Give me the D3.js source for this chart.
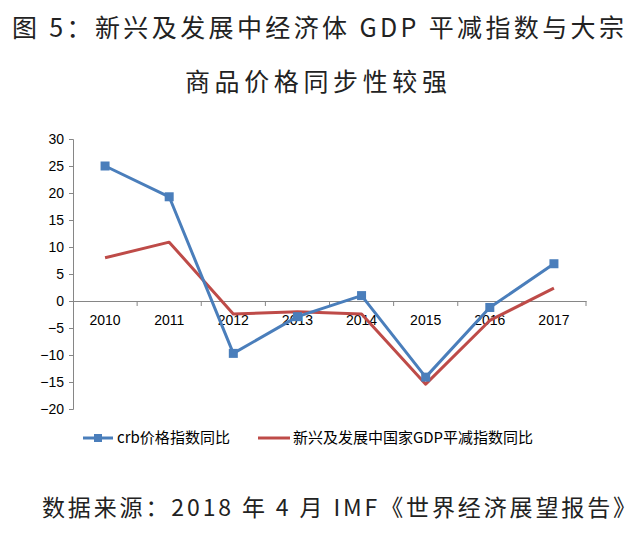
<!DOCTYPE html>
<html>
<head>
<meta charset="utf-8">
<script src="https://cdn.jsdelivr.net/npm/d3@7"></script>
<style>
  body { margin: 0; background: #fff; }
  svg { display: block; }
</style>
</head>
<body>
<div id="chart"></div>
<script>
// ──────────────  data
const years = ['2010', '2011', '2012', '2013', '2014', '2015', '2016', '2017'];
const crb   = [25, 19.3, -9.7, -2.9, 1.0, -14.1, -1.2, 6.9];
const gdpDeflator = [8.0, 10.9, -2.4, -2.0, -2.4, -15.4, -3.6, 2.4];
const yTicks = [30, 25, 20, 15, 10, 5, 0, -5, -10, -15, -20];

const seriesNames = ['crb价格指数同比', '新兴及发展中国家GDP平减指数同比'];
const BLUE = '#4a7ebb';
const RED  = '#be4b48';

const W = 640, H = 533;
const plot = { left: 73, right: 586, top: 139, bottom: 409 };

const svg = d3.select('#chart').append('svg')
  .attr('width', W).attr('height', H);

// ──────────────  title
const titleFont = '"Noto Sans CJK SC", sans-serif';
svg.append('text')
  .attr('x', 318).attr('y', 37)
  .attr('text-anchor', 'middle')
  .attr('font-family', titleFont)
  .attr('font-size', 25)
  .attr('fill', '#222')
  .attr('textLength', 612)
  .text('图 5：新兴及发展中经济体 GDP 平减指数与大宗');
svg.append('text')
  .attr('x', 316).attr('y', 91)
  .attr('text-anchor', 'middle')
  .attr('font-family', titleFont)
  .attr('font-size', 25)
  .attr('fill', '#222')
  .attr('textLength', 262)
  .text('商品价格同步性较强');

// ──────────────  scales
const x = d3.scaleBand().domain(years).range([plot.left, plot.right]);
const y = d3.scaleLinear().domain([-20, 30]).range([plot.bottom, plot.top]);

const axisFont = '"Liberation Sans", Arial, sans-serif';

// y axis
const yAxis = svg.append('g')
  .attr('transform', `translate(${plot.left},0)`)
  .call(d3.axisLeft(y).tickValues(yTicks).tickSize(4).tickPadding(5));
yAxis.select('.domain').attr('stroke', '#868686');
yAxis.selectAll('.tick line').attr('stroke', '#868686');
yAxis.selectAll('.tick text')
  .attr('font-family', axisFont).attr('font-size', 14).attr('fill', '#000');

// x axis at zero
const xAxis = svg.append('g')
  .attr('transform', `translate(0,${y(0)})`)
  .call(d3.axisBottom(x).tickSize(0).tickPadding(14));
xAxis.select('.domain').attr('stroke', '#868686');
xAxis.selectAll('.tick text')
  .attr('font-family', axisFont).attr('font-size', 14).attr('fill', '#000');
// category boundary ticks
svg.append('g').selectAll('line')
  .data(years.slice(1).concat(['end']))
  .join('line')
  .attr('x1', (d, i) => i < years.length - 1 ? x(d) : plot.right)
  .attr('x2', (d, i) => i < years.length - 1 ? x(d) : plot.right)
  .attr('y1', y(0)).attr('y2', y(0) + 5)
  .attr('stroke', '#868686');

// ──────────────  lines
const cx = d => x(d) + x.bandwidth() / 2;
const line = d3.line().x(d => cx(d.year)).y(d => y(d.v));
const toPts = arr => years.map((yr, i) => ({ year: yr, v: arr[i] }));

svg.append('path')
  .datum(toPts(gdpDeflator))
  .attr('fill', 'none').attr('stroke', RED).attr('stroke-width', 3)
  .attr('stroke-linejoin', 'round')
  .attr('d', line);

svg.append('path')
  .datum(toPts(crb))
  .attr('fill', 'none').attr('stroke', BLUE).attr('stroke-width', 3)
  .attr('stroke-linejoin', 'round')
  .attr('d', line);

svg.append('g').selectAll('rect')
  .data(toPts(crb))
  .join('rect')
  .attr('x', d => cx(d.year) - 4.5)
  .attr('y', d => y(d.v) - 4.5)
  .attr('width', 9).attr('height', 9)
  .attr('fill', BLUE);

// ──────────────  legend
const legendY = 438;
const legendFont = '"Noto Sans CJK SC", sans-serif';
const lg = svg.append('g');
lg.append('line').attr('x1', 83).attr('x2', 113).attr('y1', legendY).attr('y2', legendY)
  .attr('stroke', BLUE).attr('stroke-width', 3);
lg.append('rect').attr('x', 94).attr('y', legendY - 4).attr('width', 8).attr('height', 8)
  .attr('fill', BLUE);
lg.append('text').attr('x', 117).attr('y', legendY + 5)
  .attr('font-family', legendFont).attr('font-size', 15)
  .attr('fill', '#000').attr('textLength', 113).text(seriesNames[0]);
lg.append('line').attr('x1', 258).attr('x2', 290).attr('y1', legendY).attr('y2', legendY)
  .attr('stroke', RED).attr('stroke-width', 3);
lg.append('text').attr('x', 293).attr('y', legendY + 5)
  .attr('font-family', legendFont).attr('font-size', 15)
  .attr('fill', '#000').attr('textLength', 240).text(seriesNames[1]);

// ──────────────  source
svg.append('text')
  .attr('x', 42).attr('y', 516)
  .attr('font-family', titleFont)
  .attr('font-size', 23)
  .attr('fill', '#222')
  .attr('textLength', 594)
  .text('数据来源：2018 年 4 月 IMF《世界经济展望报告》');
</script>
</body>
</html>
